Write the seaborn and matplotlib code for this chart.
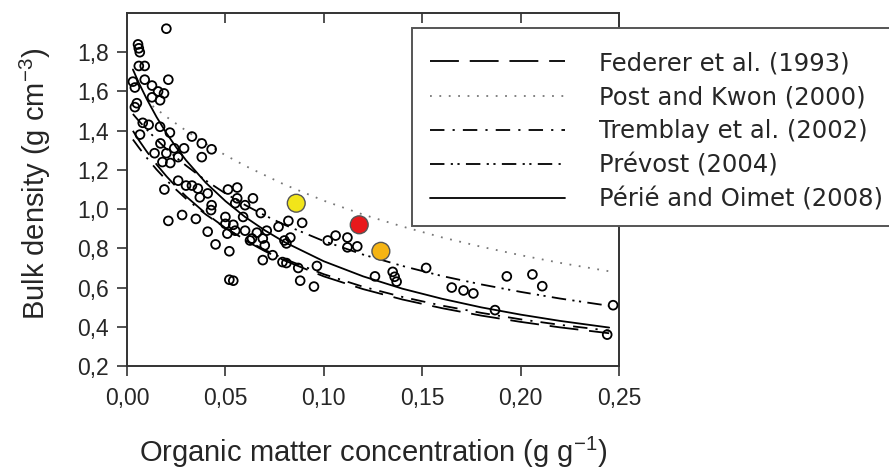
import matplotlib
matplotlib.use("Agg")
import matplotlib.pyplot as plt
import seaborn as sns
import pandas as pd
from matplotlib.patches import Rectangle
from matplotlib.ticker import FuncFormatter

# --------------------------------------------------------------------
# DATA
# --------------------------------------------------------------------

# measured samples: organic matter (g/g) and bulk density (g/cm3)
om_obs = [0.020, 0.0056, 0.006, 0.0065, 0.006, 0.009, 0.009, 0.021, 0.003, 0.004,
          0.0127, 0.0158, 0.0188, 0.0168, 0.0127, 0.005, 0.004, 0.008, 0.011, 0.0066,
          0.0168, 0.0218, 0.017, 0.033, 0.038, 0.043, 0.038, 0.014, 0.018, 0.022,
          0.024, 0.029, 0.026, 0.020, 0.026, 0.030, 0.033, 0.036, 0.041, 0.037,
          0.043, 0.019, 0.021, 0.028, 0.035, 0.0427, 0.050, 0.0513, 0.056, 0.056,
          0.055, 0.060, 0.064, 0.068, 0.054, 0.059, 0.082, 0.077, 0.089, 0.041,
          0.045, 0.052, 0.052, 0.054, 0.050, 0.055, 0.060, 0.0635, 0.051, 0.066,
          0.071, 0.0625, 0.069, 0.070, 0.080, 0.083, 0.081, 0.069, 0.074, 0.079,
          0.081, 0.087, 0.0965, 0.088, 0.095, 0.102, 0.106, 0.112, 0.112, 0.117,
          0.126, 0.135, 0.136, 0.137, 0.152, 0.165, 0.171, 0.176, 0.187, 0.193,
          0.206, 0.211, 0.247, 0.244]
bd_obs = [1.92, 1.84, 1.82, 1.80, 1.73, 1.73, 1.66, 1.66, 1.65, 1.62,
          1.63, 1.60, 1.59, 1.555, 1.57, 1.54, 1.52, 1.44, 1.43, 1.38,
          1.42, 1.39, 1.335, 1.37, 1.335, 1.305, 1.265, 1.285, 1.24, 1.235,
          1.31, 1.31, 1.265, 1.285, 1.145, 1.12, 1.12, 1.105, 1.08, 1.06,
          1.02, 1.10, 0.94, 0.97, 0.95, 0.995, 0.96, 1.10, 1.11, 1.055,
          1.03, 1.02, 1.055, 0.98, 0.92, 0.96, 0.94, 0.91, 0.93, 0.885,
          0.82, 0.785, 0.64, 0.635, 0.925, 0.89, 0.89, 0.85, 0.875, 0.88,
          0.89, 0.84, 0.85, 0.815, 0.84, 0.855, 0.825, 0.74, 0.765, 0.73,
          0.725, 0.70, 0.71, 0.635, 0.605, 0.84, 0.865, 0.855, 0.805, 0.81,
          0.657, 0.68, 0.655, 0.63, 0.70, 0.60, 0.585, 0.57, 0.485, 0.657,
          0.667, 0.607, 0.51, 0.36]

# three highlighted samples
om_hl = [0.086, 0.118, 0.129]
bd_hl = [1.03, 0.92, 0.785]
hl_colors = ["#f2e51a", "#e8191c", "#f5b414"]

# model curves
curve_om = [0.003, 0.006, 0.01, 0.015, 0.02, 0.025, 0.03, 0.04, 0.05, 0.06,
            0.07, 0.08, 0.10, 0.12, 0.14, 0.16, 0.18, 0.20, 0.22, 0.245]
federer = [1.399, 1.352, 1.294, 1.228, 1.168, 1.114, 1.065, 0.978, 0.904, 0.841,
           0.786, 0.738, 0.657, 0.592, 0.539, 0.495, 0.457, 0.425, 0.397, 0.367]
tremblay = [1.355, 1.314, 1.262, 1.202, 1.148, 1.099, 1.053, 0.973, 0.904, 0.844,
            0.792, 0.746, 0.668, 0.604, 0.552, 0.508, 0.471, 0.438, 0.410, 0.380]
prevost = [1.485, 1.450, 1.406, 1.355, 1.307, 1.263, 1.222, 1.146, 1.080, 1.021,
           0.968, 0.920, 0.837, 0.768, 0.710, 0.659, 0.616, 0.578, 0.544, 0.507]
perie = [1.712, 1.644, 1.562, 1.470, 1.388, 1.315, 1.249, 1.135, 1.041, 0.960,
         0.892, 0.832, 0.734, 0.657, 0.594, 0.543, 0.499, 0.462, 0.430, 0.396]

post_om = [0.013, 0.02, 0.03, 0.04, 0.05, 0.06, 0.08, 0.10, 0.12, 0.14,
           0.16, 0.18, 0.20, 0.22, 0.245]
post_kwon = [1.526, 1.471, 1.400, 1.334, 1.275, 1.221, 1.125, 1.043, 0.972, 0.911,
             0.856, 0.808, 0.765, 0.726, 0.683]

labels = ["Federer et al. (1993)", "Post and Kwon (2000)", "Tremblay et al. (2002)",
          "Prévost (2004)", "Périé and Oimet (2008)"]

# --------------------------------------------------------------------
# PLOT
# --------------------------------------------------------------------

sns.set_style("ticks")
plt.rcParams["font.family"] = ["Liberation Sans", "DejaVu Sans"]

W, H = 889, 471
fig = plt.figure(figsize=(W / 100, H / 100), dpi=100)
ax = fig.add_axes([127 / W, 1 - 366 / H, 492 / W, 353 / H])

obs = pd.DataFrame({"om": om_obs, "bd": bd_obs})
sns.scatterplot(data=obs, x="om", y="bd", ax=ax, marker="o", s=40,
                facecolor="none", edgecolor="black", linewidth=1.3, zorder=3)

curve_styles = [
    (curve_om, federer, "black", (0, (16, 6))),
    (post_om, post_kwon, "#777777", (0, (1, 4.2))),
    (curve_om, tremblay, "black", (0, (8, 4.5, 1.2, 4.5))),
    (curve_om, prevost, "black", (0, (8, 3.5, 1.2, 2.5, 1.2, 3.5))),
    (curve_om, perie, "black", "-"),
]
handles = []
for xs, ys, col, ls in curve_styles:
    sns.lineplot(x=xs, y=ys, ax=ax, color=col, linestyle=ls, linewidth=1.3,
                 legend=False, zorder=2)
    handles.append(ax.lines[-1])

hl = pd.DataFrame({"om": om_hl, "bd": bd_hl, "c": hl_colors})
sns.scatterplot(data=hl, x="om", y="bd", ax=ax, hue="c", palette=dict(zip(hl_colors, hl_colors)),
                s=165, edgecolor="#555555", linewidth=1.0, legend=False, zorder=4)

ax.set_xlim(0, 0.25)
ax.set_ylim(0.2, 2.0)
ax.set_xticks([0, 0.05, 0.10, 0.15, 0.20, 0.25])
ax.set_yticks([0.2, 0.4, 0.6, 0.8, 1.0, 1.2, 1.4, 1.6, 1.8])
ax.xaxis.set_major_formatter(FuncFormatter(lambda v, p: f"{v:.2f}".replace(".", ",")))
ax.yaxis.set_major_formatter(FuncFormatter(lambda v, p: f"{v:.1f}".replace(".", ",")))
ax.tick_params(axis="both", labelsize=16.5, length=7, width=1.2, color="#333333")
ax.tick_params(axis="x", pad=8)
ax.tick_params(axis="y", pad=6)
for sp in ax.spines.values():
    sp.set_visible(True)
    sp.set_color("#333333")
    sp.set_linewidth(1.4)

# inward ticks on the top spine
top = ax.secondary_xaxis("top")
top.set_xticks([0.05, 0.10, 0.15, 0.20])
top.tick_params(direction="in", length=7, width=1.2, color="#333333", labeltop=False)
top.spines["top"].set_visible(False)

ax.set_xlabel(r"Organic matter concentration (g g$^{\mathregular{-1}}$)", fontsize=21)
ax.xaxis.set_label_coords(0.5, -0.194)
ax.set_ylabel(r"Bulk density (g cm$^{\mathregular{-3}}$)", fontsize=21)
ax.yaxis.set_label_coords(-0.15, 0.515)

# legend box (runs off the right edge like the original)
fig.patches.append(Rectangle((412 / W, 1 - 226 / H), 480 / W, 198 / H,
                             transform=fig.transFigure, facecolor="white",
                             edgecolor="#555555", linewidth=1.4, zorder=4))
fig.legend(handles, labels, loc="upper left", bbox_to_anchor=(430 / W, 1 - 51 / H),
           borderaxespad=0, borderpad=0, prop={"family": "DejaVu Sans", "size": 17.5},
           handlelength=5.55, handletextpad=1.4, labelspacing=0.415,
           frameon=False)

fig.savefig("out.png", dpi=100)
